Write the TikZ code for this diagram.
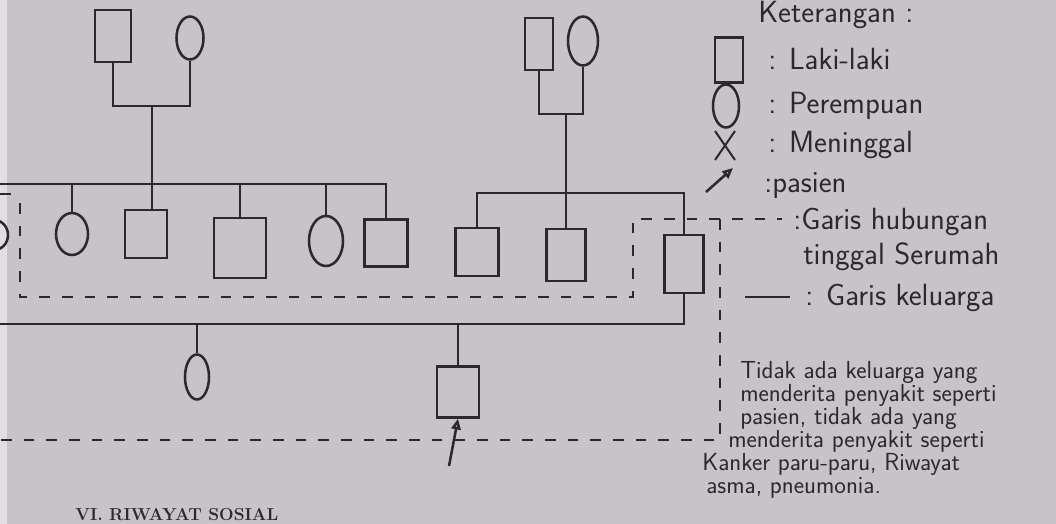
\documentclass[tikz,border=0pt]{standalone}
\usepackage{fontspec}
\usetikzlibrary{arrows.meta,positioning,shapes.geometric}
\definecolor{ink}{RGB}{45,40,46}
\definecolor{paper}{RGB}{199,195,201}
\tikzset{
  male/.style={draw=ink, line width=1.9pt, rectangle, inner sep=0pt},
  female/.style={draw=ink, line width=1.9pt, ellipse, inner sep=0pt},
  kin/.style={draw=ink, line width=1.9pt},
  house/.style={draw=ink, line width=2pt, dash pattern=on 8pt off 9pt},
  hand/.style={text=ink, font=\sffamily\fontsize{23}{24}\selectfont, anchor=base west, inner sep=0pt},
  note/.style={text=ink, font=\sffamily\fontsize{18.5}{17}\selectfont, anchor=base west, inner sep=0pt},
  pointer/.style={-{Triangle[open, length=8pt, width=7pt]}}
}
\begin{document}
\begin{tikzpicture}[x=0.75pt,y=0.75pt,yscale=-1,xscale=1]
		% paper
		\fill[paper] (0,0) rectangle (1056,524);
		\fill[paper!55!white] (0,0) rectangle (7,524);
		\useasboundingbox (0,0) rectangle (1056,524);
		\clip (0,0) rectangle (1056,524);
		
		% grandparents, left side
		\node [male, minimum width=27pt, minimum height=39pt] (gpa1) at (113,36) {};
		\node [female, minimum width=20.25pt, minimum height=32.25pt] (gma1) at (190,38) {};
		\coordinate (m1) at (152,106);
		\draw [kin] (gpa1.south) |- (m1) -| (gma1.south);
		
		% their children
		\node [female, minimum width=21pt, minimum height=22.5pt] (s0) at (-6,235) {};
		\node [female, minimum width=24pt, minimum height=31.5pt] (s1) at (72,234) {};
		\node [male, minimum width=31.5pt, minimum height=36pt] (s2) at (146,234) {};
		\node [male, minimum width=39pt, minimum height=45pt] (s3) at (240,248) {};
		\node [female, minimum width=25.5pt, minimum height=37.5pt] (s4) at (326,241) {};
		\node [male, minimum width=32.25pt, minimum height=35.25pt] (s5) at (386,243) {};
		\coordinate (sib1) at (0,184);
		\draw [kin] (sib1) -| (s5.north);
		\draw [kin] (m1) -- (m1 |- s2.north);
		\draw [kin] (s1.north |- sib1) -- (s1.north);
		\draw [kin] (s3.north |- sib1) -- (s3.north);
		\draw [kin] (s4.north |- sib1) -- (s4.north);
		
		% grandparents, right side
		\node [male, minimum width=21pt, minimum height=39pt] (gpa2) at (539,44) {};
		\node [female, minimum width=22.5pt, minimum height=36.75pt] (gma2) at (583,41) {};
		\coordinate (m2) at (566,114);
		\draw [kin] (gpa2.south) |- (m2) -| (gma2.south);
		
		% their children
		\node [male, minimum width=32.25pt, minimum height=36pt] (s6) at (477,252) {};
		\node [male, minimum width=29.25pt, minimum height=39pt] (s7) at (566,255) {};
		\node [male, minimum width=29.25pt, minimum height=43.5pt] (dad) at (684,264) {};
		\coordinate (sib2) at (566,193);
		\draw [kin] (m2) -- (s7.north);
		\draw [kin] (s6.north) |- (sib2) -| (dad.north);
		
		% marriage line and children
		\coordinate (mar) at (0,324);
		\draw [kin] (dad.south) |- (mar);
		\node [female, minimum width=18pt, minimum height=33.75pt] (c1) at (197,377) {};
		\node [male, minimum width=31.5pt, minimum height=38.25pt] (pt) at (458,392) {};
		\draw [kin] (c1.north |- mar) -- (c1.north);
		\draw [kin] (pt.north |- mar) -- (pt.north);
		\coordinate (arr) at (449,466);
		\draw [kin, pointer] (arr) -- (pt.south);
		
		% household line
		\draw [house] (0,194) -- (12,194);
		\draw [house] (20,203) -- (20,297) -- (633,297) -- (633,219) -- (782,219);
		\draw [house] (720,219) -- (720,440) -- (0,440);
		
		% legend
		\node [hand] (ket) at (758,23) {Keterangan :};
		\node [male, minimum width=21pt, minimum height=33.75pt] (lmale) at (729,60) {};
		\node [hand] (tmale) at (768,70) {: Laki-laki};
		\node [female, minimum width=19.5pt, minimum height=32.25pt] (lfemale) at (726,106) {};
		\node [hand] (tfemale) at (768,114) {: Perempuan};
		\draw [kin, line width=1.5pt] (715,131) -- (735,160) (735,131) -- (715,160);
		\node [hand] (tdead) at (768,153) {: Meninggal};
		\coordinate (la) at (706,192);
		\coordinate (lb) at (733,168);
		\draw [kin, pointer] (la) -- (lb);
		\node [hand] (tpas) at (764,193) {:pasien};
		\node [hand] (thouse) at (793,229) {:Garis hubungan};
		\node [hand] (thouse2) at (803,264) {tinggal Serumah};
		\coordinate (lc) at (745,297);
		\coordinate (ld) at (790,297);
		\draw [kin] (lc) -- (ld);
		\node [hand] (tkin) at (805,305) {: Garis keluarga};
		
		% note
		\node [note] (t1) at (740,378) {Tidak ada keluarga yang};
		\node [note] (t2) at (740,401) {menderita penyakit seperti};
		\node [note] (t3) at (740,424) {pasien, tidak ada yang};
		\node [note] (t4) at (728,447) {menderita penyakit seperti};
		\node [note] (t5) at (702,470) {Kanker paru-paru, Riwayat};
		\node [note] (t6) at (706,493) {asma, pneumonia.};
		
		% page below
		\node [anchor=base west, inner sep=0pt, text=ink, font=\bfseries\fontsize{13}{13}\selectfont] (sec) at (75,520) {VI. RIWAYAT SOSIAL};
		
\end{tikzpicture}
\end{document}
